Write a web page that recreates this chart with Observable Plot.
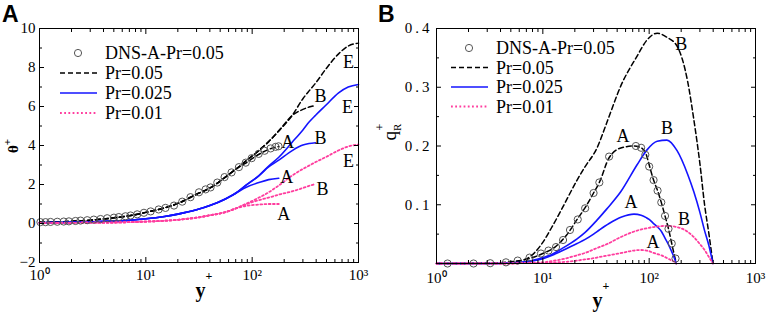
<!DOCTYPE html>
<html><head><meta charset="utf-8">
<script src="https://cdn.jsdelivr.net/npm/d3@7"></script>
<script src="https://cdn.jsdelivr.net/npm/@observablehq/plot@0.6"></script>
<style>
body{margin:0;background:#fff;}
#wrap{position:relative;width:768px;height:313px;overflow:hidden;background:#fff;}
#wrap > div.p{position:absolute;top:0;}
#wrap svg text{font-family:"Liberation Serif","DejaVu Serif",serif;}
</style></head><body><div id="wrap"><div class="p" id="pa" style="left:0"></div><div class="p" id="pb" style="left:384px"></div></div>
<script>
// ---------- DATA: panel A (theta+ vs y+) ----------
const xA = [1, 1.5, 2, 3, 5, 7, 10, 15, 20, 30, 40, 56, 70, 87, 116, 143, 178];
const xB = [1, 1.5, 2, 3, 5, 7, 10, 15, 20, 30, 40, 56, 70, 87, 116, 143, 178, 238, 300, 343, 395];
const xE = [1, 1.5, 2, 3, 5, 7, 10, 15, 20, 30, 40, 56, 70, 87, 116, 143, 178, 238, 300, 343, 395, 490, 650, 800, 1000];

const th005A = [0.06, 0.08, 0.11, 0.17, 0.29, 0.4, 0.57, 0.8, 1.03, 1.5, 1.82, 2.38, 2.78, 3.1, 3.55, 3.8, 3.95];
const th005B = [0.06, 0.08, 0.11, 0.17, 0.29, 0.4, 0.57, 0.8, 1.03, 1.5, 1.82, 2.38, 2.78, 3.2, 3.75, 4.2, 4.75, 5.54, 5.85, 5.97, 6.05];
const th005E = [0.06, 0.08, 0.11, 0.17, 0.29, 0.4, 0.57, 0.8, 1.03, 1.5, 1.82, 2.38, 2.78, 3.2, 3.75, 4.2, 4.75, 5.54, 6.4, 6.8, 7.2, 7.9, 8.7, 9.1, 9.25];

const th0025A = [0.04, 0.05, 0.06, 0.08, 0.13, 0.17, 0.24, 0.36, 0.48, 0.7, 0.92, 1.26, 1.55, 1.85, 2.1, 2.25, 2.32];
const th0025B = [0.04, 0.05, 0.06, 0.08, 0.13, 0.17, 0.24, 0.36, 0.48, 0.7, 0.92, 1.26, 1.55, 1.95, 2.46, 2.9, 3.25, 3.74, 4.02, 4.1, 4.14];
const th0025E = [0.04, 0.05, 0.06, 0.08, 0.13, 0.17, 0.24, 0.36, 0.48, 0.7, 0.92, 1.26, 1.55, 1.95, 2.46, 2.95, 3.4, 4.17, 4.8, 5.2, 5.55, 6.05, 6.7, 7.0, 7.13];

const th001A = [0.03, 0.03, 0.035, 0.04, 0.05, 0.07, 0.1, 0.14, 0.19, 0.3, 0.42, 0.58, 0.77, 0.9, 0.97, 1.0, 1.0];
const th001B = [0.03, 0.03, 0.035, 0.04, 0.05, 0.07, 0.1, 0.14, 0.19, 0.3, 0.42, 0.58, 0.77, 0.98, 1.2, 1.33, 1.48, 1.65, 1.82, 1.93, 2.03];
const th001E = [0.03, 0.03, 0.035, 0.04, 0.05, 0.07, 0.1, 0.14, 0.19, 0.3, 0.42, 0.58, 0.77, 1.0, 1.33, 1.6, 1.95, 2.46, 2.8, 2.97, 3.15, 3.4, 3.75, 3.95, 4.05];

const dnsAx = [1.02, 1.14, 1.27, 1.47, 1.69, 1.89, 2.18, 2.43, 2.81, 3.24, 3.75, 4.33, 5.01, 5.57, 6.43, 7.18, 8.3, 9.6, 11.1, 13.2, 15.3, 18.4, 22, 26.3, 31.6, 36.5, 40.6, 47, 55, 64, 75, 87, 99, 115, 131, 149, 166, 177];
const dnsAth = [0.07, 0.07, 0.08, 0.09, 0.1, 0.11, 0.13, 0.15, 0.17, 0.2, 0.23, 0.27, 0.3, 0.33, 0.37, 0.41, 0.47, 0.55, 0.62, 0.72, 0.8, 0.92, 1.12, 1.35, 1.6, 1.75, 1.85, 2.1, 2.38, 2.62, 2.89, 3.12, 3.35, 3.57, 3.73, 3.85, 3.93, 3.96];

// ---------- DATA: panel B (q_R+ vs y+) ----------
const xbA = [1, 3, 5, 7, 10, 13, 17, 21, 25, 30, 34, 42, 55, 72, 84, 94, 100, 110, 120, 130, 141, 152, 163, 172, 180];
const xbB = [1, 3, 5, 7, 10, 12, 15, 21, 25, 32, 40, 54, 77, 95, 119, 147, 183, 230, 263, 300, 332, 365, 398];

const q005A = [0, 0.0005, 0.003, 0.007, 0.017, 0.028, 0.05, 0.075, 0.095, 0.12, 0.138, 0.18, 0.197, 0.2, 0.197, 0.185, 0.168, 0.142, 0.124, 0.104, 0.081, 0.059, 0.034, 0.015, 0];
const q0025A = [0, 0, 0.001, 0.003, 0.008, 0.016, 0.026, 0.034, 0.041, 0.05, 0.057, 0.068, 0.079, 0.084, 0.082, 0.078, 0.075, 0.068, 0.062, 0.055, 0.043, 0.032, 0.02, 0.01, 0];
const q001A = [0, 0, 0, 0.001, 0.001, 0.002, 0.003, 0.005, 0.007, 0.009, 0.011, 0.014, 0.018, 0.022, 0.023, 0.022, 0.021, 0.018, 0.016, 0.014, 0.011, 0.008, 0.005, 0.003, 0];

const q005B = [0, 0, 0.002, 0.008, 0.036, 0.06, 0.092, 0.142, 0.165, 0.195, 0.24, 0.302, 0.353, 0.38, 0.392, 0.385, 0.37, 0.31, 0.245, 0.17, 0.1, 0.05, 0];
const q0025B = [0, 0, 0.001, 0.003, 0.01, 0.015, 0.025, 0.042, 0.053, 0.073, 0.093, 0.122, 0.168, 0.193, 0.208, 0.21, 0.192, 0.152, 0.122, 0.087, 0.056, 0.03, 0];
const q001B = [0, 0, 0, 0.001, 0.002, 0.004, 0.007, 0.014, 0.018, 0.026, 0.033, 0.045, 0.056, 0.06, 0.063, 0.064, 0.062, 0.054, 0.045, 0.033, 0.023, 0.011, 0];

const dnsBx = [1.27, 2.23, 3.2, 4.5, 5.8, 7.5, 9.6, 11.3, 13.3, 15.5, 18, 21.3, 25, 30, 34, 42, 75, 84, 92, 100, 110, 120, 130, 141, 152, 163, 177];
const dnsBq = [0, 0, 0.0005, 0.002, 0.005, 0.01, 0.017, 0.022, 0.028, 0.04, 0.057, 0.075, 0.094, 0.12, 0.138, 0.182, 0.2, 0.197, 0.185, 0.165, 0.142, 0.124, 0.104, 0.081, 0.059, 0.034, 0.0085];

// ---------- ticks & text ----------
const xMajor = [1, 10, 100, 1000];
const xMinor = [2,3,4,5,6,7,8,9,20,30,40,50,60,70,80,90,200,300,400,500,600,700,800,900];
const yMajorA = [-2, 0, 2, 4, 6, 8, 10];
const yMinorA = [-1, 1, 3, 5, 7, 9];
const yMajorB = [0.1, 0.2, 0.3, 0.4];
const yMinorB = [0.05, 0.15, 0.25, 0.35];
const legendLabels = ["DNS-A-Pr=0.05", "Pr=0.05", "Pr=0.025", "Pr=0.01"];
const panelLetters = ["A", "B"];

// ---------- styles ----------
const FONT = "Liberation Serif";
const BLACK = "#000", BLUE = "#1414ff", PINK = "#ff3d9e";
const styles = {
  "0.05": {stroke: BLACK, strokeWidth: 1.5, strokeDasharray: "5,3"},
  "0.025": {stroke: BLUE, strokeWidth: 1.6},
  "0.01": {stroke: PINK, strokeWidth: 1.8, strokeDasharray: "1.8,2.4"}
};
const supDigits = {0: "\u2070", 1: "\u00B9", 2: "\u00B2", 3: "\u00B3"};
const fmtPow = d => "10" + supDigits[Math.round(Math.log10(d))];
const blank = () => "";

const rows = (xs, ys) => xs.map((x, i) => ({x, y: ys[i]}));

function axes(yMajor, yMinor, yFmt, xPad, yPad) {
  const common = {label: null, fontSize: 15};
  return [
    Plot.axisX(xMajor, {...common, anchor: "bottom", tickSize: -5, tickPadding: xPad, tickFormat: fmtPow}),
    Plot.axisX(xMinor, {...common, anchor: "bottom", tickSize: -3, tickFormat: blank}),
    Plot.axisX(xMajor, {...common, anchor: "top", tickSize: -5, tickFormat: blank}),
    Plot.axisX(xMinor, {...common, anchor: "top", tickSize: -3, tickFormat: blank}),
    Plot.axisY(yMajor, {...common, anchor: "left", tickSize: -5, tickPadding: yPad, tickFormat: yFmt}),
    Plot.axisY(yMinor, {...common, anchor: "left", tickSize: -3, tickFormat: blank}),
    Plot.axisY(yMajor, {...common, anchor: "right", tickSize: -5, tickFormat: blank}),
    Plot.axisY(yMinor, {...common, anchor: "right", tickSize: -3, tickFormat: blank})
  ];
}

function curveMarks(curves, anchorFn) {
  const marks = [];
  for (const c of curves) {
    const d = rows(c.x, c.y);
    marks.push(Plot.line(d, {x: "x", y: "y", ...styles[c.pr], curve: "monotone-x"}));
  }
  for (const c of curves) {
    const d = rows(c.x, c.y);
    marks.push(Plot.text([anchorFn(d)], {x: "x", y: "y", text: () => c.label, dx: c.dx, dy: c.dy,
      fontSize: 18, fill: "#000", textAnchor: "middle", lineAnchor: "middle"}));
  }
  return marks;
}
const lastPoint = d => d[d.length - 1];
const peakPoint = d => d.reduce((a, b) => (b.y > a.y ? b : a));

// ---------- Panel A ----------
const curvesA = [
  {x: xA, y: th005A, pr: "0.05", label: "A", dx: 9, dy: -4},
  {x: xB, y: th005B, pr: "0.05", label: "B", dx: 5, dy: -9},
  {x: xE, y: th005E, pr: "0.05", label: "E", dx: -10, dy: 19},
  {x: xA, y: th0025A, pr: "0.025", label: "A", dx: 8, dy: -1},
  {x: xB, y: th0025B, pr: "0.025", label: "B", dx: 5, dy: -5},
  {x: xE, y: th0025E, pr: "0.025", label: "E", dx: -11, dy: 23},
  {x: xA, y: th001A, pr: "0.01", label: "A", dx: 5, dy: 10},
  {x: xB, y: th001B, pr: "0.01", label: "B", dx: 7, dy: 5},
  {x: xE, y: th001E, pr: "0.01", label: "E", dx: -10, dy: 17}
];
const plotA = Plot.plot({
  width: 384, height: 313,
  marginLeft: 39, marginRight: 26, marginTop: 28, marginBottom: 51,
  x: {type: "log", domain: [1, 1000]},
  y: {domain: [-2, 10]},
  style: {fontSize: "15px", color: "#000", background: "transparent", overflow: "visible"},
  marks: [
    ...curveMarks(curvesA, lastPoint),
    Plot.dot(rows(dnsAx, dnsAth), {x: "x", y: "y", r: 3.6, stroke: "#555", strokeWidth: 1, fill: "none"}),
    ...axes(yMajorA, yMinorA, d => (d < 0 ? "\u2212" + Math.abs(d) : String(d)), 12, 9),
    Plot.frame({stroke: "#000", strokeWidth: 1})
  ]
});
document.getElementById("pa").appendChild(plotA);

// ---------- Panel B ----------
const curvesB = [
  {x: xbA, y: q005A, pr: "0.05", label: "A", dx: -11, dy: -10},
  {x: xbB, y: q005B, pr: "0.05", label: "B", dx: 24, dy: 11},
  {x: xbA, y: q0025A, pr: "0.025", label: "A", dx: -3, dy: -12},
  {x: xbB, y: q0025B, pr: "0.025", label: "B", dx: 0, dy: -12},
  {x: xbA, y: q001A, pr: "0.01", label: "A", dx: 12, dy: -8},
  {x: xbB, y: q001B, pr: "0.01", label: "B", dx: 17, dy: -7}
];
const plotB = Plot.plot({
  width: 384, height: 313,
  marginLeft: 52, marginRight: 13, marginTop: 28, marginBottom: 50,
  x: {type: "log", domain: [1, 1000]},
  y: {domain: [0, 0.4]},
  style: {fontSize: "15px", color: "#000", background: "transparent", overflow: "visible"},
  marks: [
    ...curveMarks(curvesB, peakPoint),
    Plot.dot(rows(dnsBx, dnsBq), {x: "x", y: "y", r: 3.6, stroke: "#555", strokeWidth: 1, fill: "none"}),
    ...axes(yMajorB, yMinorB, d => d.toFixed(1), 14, 9),
    Plot.frame({stroke: "#000", strokeWidth: 1})
  ]
});
document.getElementById("pb").appendChild(plotB);
d3.select(plotB).selectAll("g[aria-label='y-axis tick label'] text").style("letter-spacing", "3px");
d3.selectAll("#wrap svg text").style("font-family", "'Liberation Serif', serif");

// ---------- overlay: legends, axis titles, panel letters ----------
const ov = d3.select("#wrap").append("svg")
  .attr("width", 768).attr("height", 313)
  .style("position", "absolute").style("left", 0).style("top", 0);

function legend(x0, y0, step) {
  const g = ov.append("g").attr("transform", `translate(${x0},${y0})`).style("font-size", "18px");
  g.append("circle").attr("cx", 18).attr("cy", 0).attr("r", 3.6).attr("fill", "none").attr("stroke", "#555");
  const prs = ["0.05", "0.025", "0.01"];
  prs.forEach((p, i) => {
    const s = styles[p];
    g.append("line").attr("x1", 0).attr("x2", 37).attr("y1", step * (i + 1)).attr("y2", step * (i + 1))
      .attr("stroke", s.stroke).attr("stroke-width", s.strokeWidth)
      .attr("stroke-dasharray", s.strokeDasharray || null);
  });
  legendLabels.forEach((t, i) => {
    g.append("text").attr("x", 45).attr("y", step * i).attr("dy", "0.36em").text(t);
  });
}
legend(60, 53, 20);
legend(451, 48, 19.5);

// panel letters
ov.selectAll("text.letter").data(panelLetters).join("text")
  .attr("x", (d, i) => (i === 0 ? 2 : 378)).attr("y", 22)
  .style("font-family", "'Liberation Sans', Arial, sans-serif").style("font-weight", "bold").style("font-size", "23px")
  .text(d => d);

// x titles
function xTitle(cx, by) {
  const t = ov.append("text").attr("x", cx).attr("y", by).attr("text-anchor", "middle")
    .style("font-weight", "bold").style("font-size", "20px");
  t.append("tspan").text("y");
  t.append("tspan").attr("dy", -17).style("font-size", "12px").text("+");
}
xTitle(204, 297);
xTitle(601, 307);

// y titles
const tA = ov.append("text").attr("transform", "translate(18,146) rotate(-90)").attr("text-anchor", "middle")
  .style("font-weight", "bold").style("font-size", "15px");
tA.append("tspan").text("\u03B8");
tA.append("tspan").attr("dy", -7).style("font-size", "11px").text("+");

const tB = ov.append("text").attr("transform", "translate(396,132) rotate(-90)").attr("text-anchor", "middle")
  .style("font-size", "19px");
tB.append("tspan").text("q");
tB.append("tspan").attr("dy", 5).style("font-size", "11px").text("R");
tB.append("tspan").attr("dx", -7).attr("dy", -17).style("font-size", "12px").text("+");
</script></body></html>
